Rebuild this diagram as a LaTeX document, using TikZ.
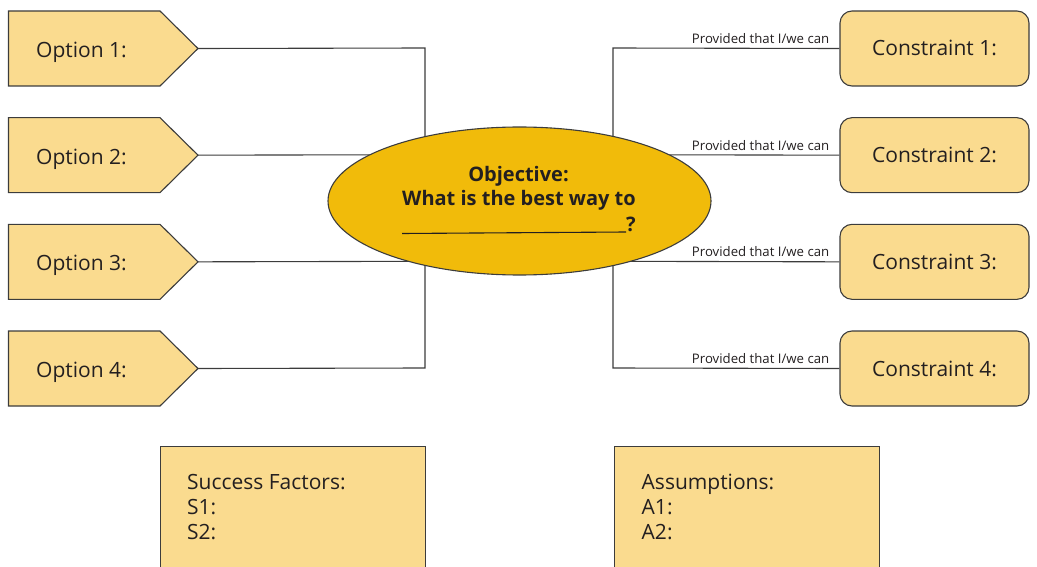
\documentclass[tikz,border=0pt]{standalone}
\usepackage{fontspec}
\usetikzlibrary{shapes.geometric}
\setmainfont{Open Sans}
\definecolor{boxfill}{RGB}{250,219,143}
\definecolor{goal}{RGB}{241,187,10}
\definecolor{ink}{RGB}{35,31,32}
\definecolor{edge}{RGB}{60,60,60}
\begin{document}
\begin{tikzpicture}[x=1pt,y=-1pt,
  link/.style={draw=edge,line width=1.1pt},
  optbox/.style={fill=boxfill,draw=edge,line width=1.1pt,line join=miter},
  lbl/.style={inner sep=0pt,text=ink,font=\fontsize{21}{25}\selectfont},
  cbox/.style={rectangle,rounded corners=12pt,fill=boxfill,draw=edge,line width=1.1pt,
    minimum width=189pt,minimum height=75pt,text height=15pt,text depth=0pt,
    inner sep=0pt,text=ink,font=\fontsize{21}{25}\selectfont},
  cond/.style={inner sep=0pt,anchor=base east,text=ink,font=\fontsize{13.2}{15}\selectfont},
  notebox/.style={rectangle,fill=boxfill,draw=edge,line width=1.1pt,anchor=north west,
    minimum width=265pt,minimum height=160pt,inner sep=0pt},
  goaltxt/.style={inner sep=0pt,anchor=base,text=ink,font=\fontsize{20}{24}\bfseries\selectfont}]
\useasboundingbox (0,0) rectangle (1037,567);
\clip (0,0) rectangle (1037,567);

% hub coordinates of the two connector trunks
\coordinate (lb1) at (425,48);
\coordinate (lb2) at (425,154.7);
\coordinate (lb3) at (425,261.3);
\coordinate (lb4) at (425,368);
\coordinate (rb1) at (613,48);
\coordinate (rb2) at (613,154.7);
\coordinate (rb3) at (613,261.3);
\coordinate (rb4) at (613,368);

% option arrows on the left
\foreach \i in {1,2,3,4}{
  \pgfmathsetmacro{\top}{11+(\i-1)*106.667}
  \pgfmathsetmacro{\mid}{\top+37.5}
  \pgfmathsetmacro{\bot}{\top+75}
  \path[optbox] (8.5,\top) -- (160,\top) -- (198,\mid) -- (160,\bot) -- (8.5,\bot) -- cycle;
  \coordinate (o\i tip) at (198,\mid);
  \node[lbl,anchor=base west] (o\i) at (36,\mid+9) {Option \i:};
}

% constraint boxes on the right
\foreach \i in {1,2,3,4}{
  \pgfmathsetmacro{\mid}{48.5+(\i-1)*106.667}
  \node[cbox] (c\i) at (934.5,\mid) {Constraint \i:};
}

% connectors
\draw[link] (o1tip) -- (lb1) -- (lb4) -- (o4tip);
\draw[link] (o2tip) -- (lb2);
\draw[link] (o3tip) -- (lb3);
\draw[link] (c1.west) -- (rb1) -- (rb4) -- (c4.west);
\draw[link] (c2.west) -- (rb2);
\draw[link] (c3.west) -- (rb3);

% condition labels above the constraint links
\foreach \i in {1,2,3,4}{
  \node[cond] (p\i) at ([xshift=-10pt,yshift=5pt]c\i.west) {Provided that I/we can};
}

% objective ellipse
\node[ellipse,fill=goal,draw=edge,line width=1.1pt,minimum width=383pt,minimum height=148pt,inner sep=0pt]
  (obj) at (519.5,201) {};
\node[goaltxt] (objA) at (518.5,182) {Objective:};
\node[goaltxt] (objB) at (519,206) {What is the best way to};
\node[goaltxt,anchor=base west] (objC) at (626,232) {?};
\coordinate (blankL) at (402,233.5);
\draw[draw=ink,line width=1.1pt] (blankL) -- (objC.base west);

% success factors and assumptions
\node[notebox] (sf) at (160,446) {};
\node[lbl,anchor=base west] (sf0) at (187,489) {Success Factors:};
\node[lbl,anchor=base west] (sf1) at (187,514) {S1:};
\node[lbl,anchor=base west] (sf2) at (187,539) {S2:};
\node[notebox] (as) at (614,446) {};
\node[lbl,anchor=base west] (as0) at (641.5,489) {Assumptions:};
\node[lbl,anchor=base west] (as1) at (641.5,514) {A1:};
\node[lbl,anchor=base west] (as2) at (641.5,539) {A2:};
\end{tikzpicture}
\end{document}
